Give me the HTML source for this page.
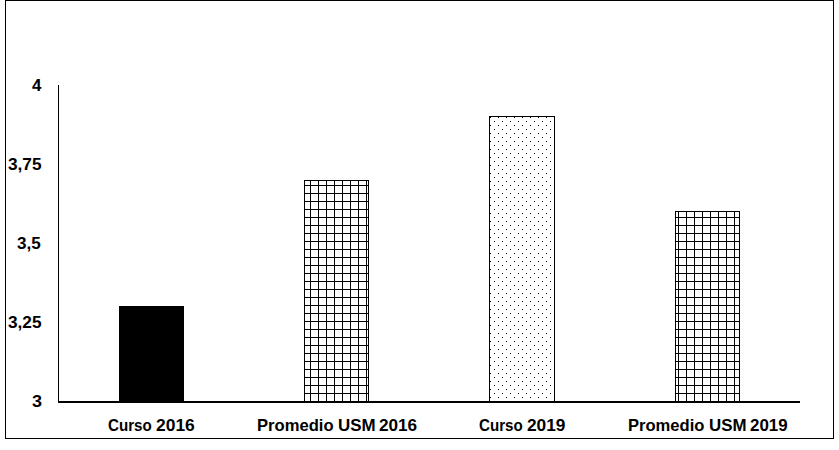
<!DOCTYPE html>
<html><head><meta charset="utf-8">
<style>
html,body{margin:0;padding:0;background:#fff;}
body{width:839px;height:450px;position:relative;overflow:hidden;font-family:"Liberation Sans",sans-serif;}
#frame{position:absolute;left:5px;top:0;width:827px;height:437px;border:1px solid #000;}
svg{position:absolute;left:0;top:0;}
.t{position:absolute;white-space:nowrap;font-weight:bold;color:#000;font-size:16.2px;line-height:20px;height:20px;transform-origin:0 0;}
</style></head><body>
<div id="frame"></div>
<svg width="839" height="450" viewBox="0 0 839 450" shape-rendering="crispEdges">
<defs>
<pattern id="grid" x="0" y="0" width="8" height="8" patternUnits="userSpaceOnUse">
<rect x="0" y="0" width="8" height="8" fill="#fff"/>
<rect x="6" y="0" width="1" height="8" fill="#000"/>
<rect x="0" y="1" width="8" height="1" fill="#000"/>
</pattern>
<pattern id="dots" x="0" y="0" width="8" height="8" patternUnits="userSpaceOnUse">
<rect x="0" y="0" width="8" height="8" fill="#fff"/>
<rect x="6" y="1" width="1" height="1" fill="#000"/>
<rect x="2" y="5" width="1" height="1" fill="#000"/>
</pattern>
</defs>
<rect x="119" y="306" width="65" height="96" fill="#000"/>
<rect x="304.5" y="180.5" width="64" height="221" fill="url(#grid)" stroke="#000" stroke-width="1"/>
<rect x="489.5" y="116.5" width="65" height="285" fill="url(#dots)" stroke="#000" stroke-width="1"/>
<rect x="675.5" y="211.5" width="64" height="190" fill="url(#grid)" stroke="#000" stroke-width="1"/>
<rect x="58" y="85" width="1" height="318" fill="#000"/>
<rect x="58" y="401" width="742" height="2" fill="#000"/>
</svg>
<div class="t" style="left:108.02px;top:414.5px;transform:scaleX(0.9341);">Curso</div>
<div class="t" style="left:156.43px;top:414.5px;transform:scaleX(1.0763);">2016</div>
<div class="t" style="left:257.05px;top:414.5px;transform:scaleX(1.025);">Promedio</div>
<div class="t" style="left:337.65px;top:414.5px;transform:scaleX(1.045);">USM</div>
<div class="t" style="left:378.64px;top:414.5px;transform:scaleX(1.059);">2016</div>
<div class="t" style="left:479.02px;top:414.5px;transform:scaleX(0.9341);">Curso</div>
<div class="t" style="left:527.43px;top:414.5px;transform:scaleX(1.0676);">2019</div>
<div class="t" style="left:628.05px;top:414.5px;transform:scaleX(1.0237);">Promedio</div>
<div class="t" style="left:708.56px;top:414.5px;transform:scaleX(1.0421);">USM</div>
<div class="t" style="left:749.95px;top:414.5px;transform:scaleX(1.0446);">2019</div>
<div class="t" style="left:32.04px;top:75px;transform:scaleX(1.0435);">4</div>
<div class="t" style="left:8.2px;top:154px;transform:scaleX(1.0645);">3,75</div>
<div class="t" style="left:17.2px;top:233px;transform:scaleX(1.0543);">3,5</div>
<div class="t" style="left:8.2px;top:312px;transform:scaleX(1.0645);">3,25</div>
<div class="t" style="left:32.08px;top:391px;transform:scaleX(1.1125);">3</div>
</body></html>
